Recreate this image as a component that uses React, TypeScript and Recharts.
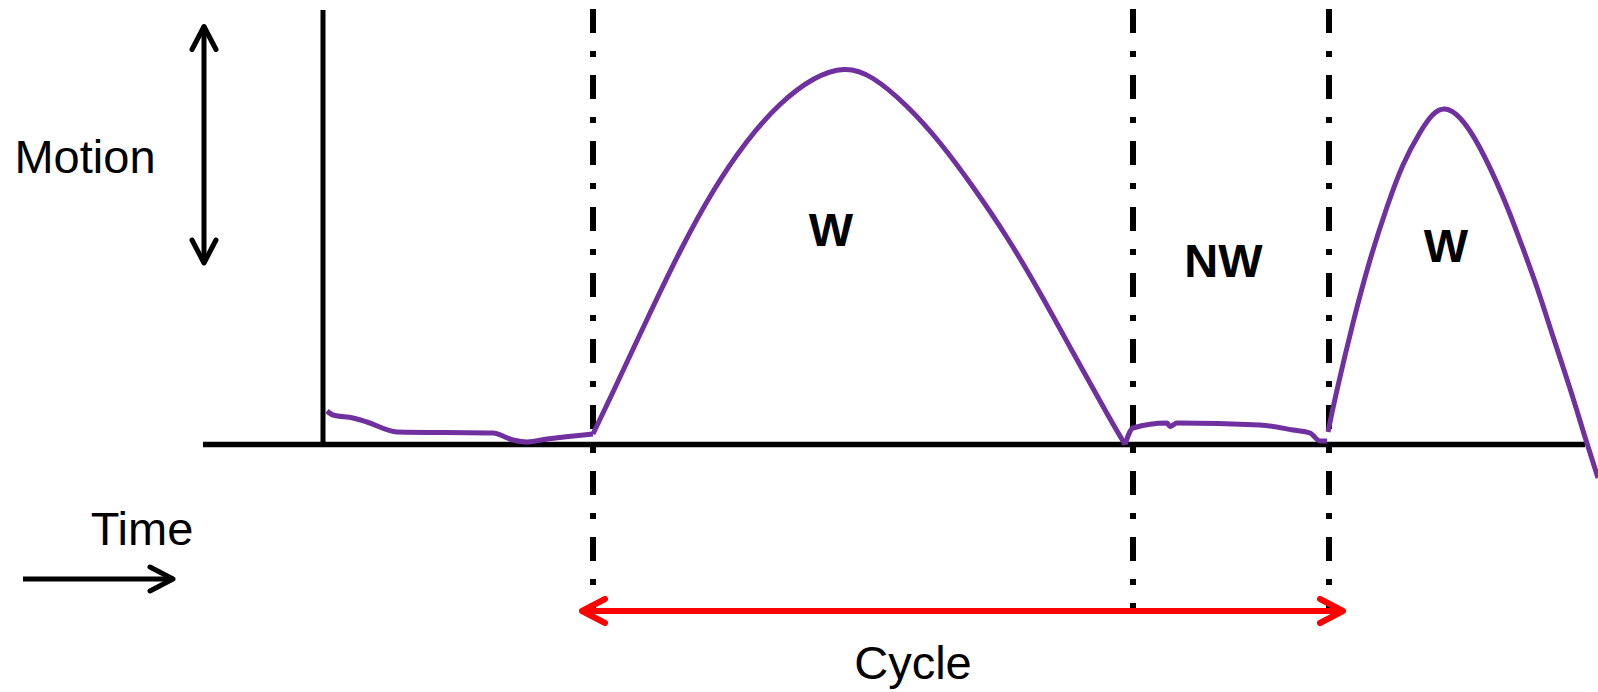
import React from 'react';
import { ComposedChart, Line, XAxis, YAxis, ReferenceLine, ReferenceDot } from 'recharts';

// time (t) and motion (m) in arbitrary units
const restPhase1 = [
  { t: 0.8, m: 6.7 }, { t: 2.0, m: 5.9 }, { t: 6.0, m: 5.3 }, { t: 8.8, m: 4.5 },
  { t: 14.8, m: 2.5 }, { t: 34.0, m: 2.3 }, { t: 38.0, m: 0.9 }, { t: 40.8, m: 0.5 },
  { t: 44.8, m: 1.1 }, { t: 54.0, m: 2.1 },
];
const workPhase1 = [
  { t: 54.0, m: 2.1 }, { t: 58.0, m: 10.5 }, { t: 64.8, m: 25.0 }, { t: 71.4, m: 38.6 },
  { t: 78.0, m: 50.6 }, { t: 84.8, m: 60.6 }, { t: 91.4, m: 68.0 }, { t: 98.0, m: 73.0 },
  { t: 104.2, m: 75.0 }, { t: 110.0, m: 73.2 }, { t: 116.8, m: 67.6 }, { t: 123.4, m: 60.3 },
  { t: 130.0, m: 51.5 }, { t: 136.8, m: 41.4 }, { t: 143.4, m: 30.3 }, { t: 150.0, m: 18.4 },
  { t: 156.8, m: 6.2 }, { t: 160.4, m: 0.0 },
];
const restPhase2 = [
  { t: 160.4, m: 0.0 }, { t: 162.0, m: 3.3 }, { t: 168.8, m: 4.3 }, { t: 169.4, m: 3.6 },
  { t: 170.8, m: 4.3 }, { t: 187.4, m: 3.9 }, { t: 194.0, m: 2.9 }, { t: 197.4, m: 2.3 },
  { t: 199.4, m: 0.7 }, { t: 200.8, m: 0.7 },
];
const workPhase2 = [
  { t: 201.0, m: 2.5 }, { t: 202.8, m: 10.9 }, { t: 206.0, m: 24.3 }, { t: 209.4, m: 36.9 },
  { t: 212.8, m: 47.5 }, { t: 216.0, m: 55.9 }, { t: 219.4, m: 62.4 }, { t: 222.0, m: 66.0 },
  { t: 224.4, m: 67.1 }, { t: 227.4, m: 65.3 }, { t: 231.4, m: 59.3 }, { t: 236.0, m: 49.5 },
  { t: 239.4, m: 40.8 }, { t: 242.8, m: 31.4 }, { t: 246.0, m: 21.6 }, { t: 249.4, m: 11.2 },
  { t: 252.4, m: 1.5 }, { t: 255.0, m: -6.7 },
];

const phaseBoundaries = [54.0, 162.0, 201.2];
const boundaryTop = 87.1;
const boundaryBottom = -32.7;

const timeAxisStart = -24.0;
const timeAxisEnd = 252.4;
const motionAxisTop = 86.9;

const motionArrow = { t: -23.8, from: 83.6, to: 36.3 };
const timeArrow = { m: -26.9, from: -60.0, to: -30.0 };
const cycleArrow = { m: -33.3, from: 51.8, to: 204.0 };

const textLabels = [
  { text: 'Motion', t: -47.6, m: 54.4, bold: false, color: '#000000' },
  { text: 'Time', t: -36.2, m: -20.1, bold: false, color: '#000000' },
  { text: 'Cycle', t: 118.0, m: -46.9, bold: false, color: '#000000' },
  { text: 'W', t: 101.6, m: 39.8, bold: true, color: '#000000' },
  { text: 'NW', t: 180.1, m: 33.5, bold: true, color: '#000000' },
  { text: 'W', t: 224.6, m: 36.5, bold: true, color: '#000000' },
];

const xDomain: [number, number] = [-64.6, 255.0];
const yDomain: [number, number] = [-49.5, 88.9];

const PURPLE = '#7030A0';
const RED = '#FF0000';
const FONT = '"Liberation Sans", Arial, Helvetica, sans-serif';

const makeArrow = (color: string, both: boolean, sw: number) => (p: any) => {
  const { x1, y1, x2, y2 } = p;
  const dx = x2 - x1;
  const dy = y2 - y1;
  const L = Math.hypot(dx, dy) || 1;
  const ux = dx / L;
  const uy = dy / L;
  const hl = 23;
  const hw = 12;
  const head = (tx: number, ty: number, dirx: number, diry: number, key: string) => {
    const bx = tx - dirx * hl;
    const by = ty - diry * hl;
    const px = -diry * hw;
    const py = dirx * hw;
    return (
      <polyline
        key={key}
        points={`${bx + px},${by + py} ${tx},${ty} ${bx - px},${by - py}`}
        fill="none"
        stroke={color}
        strokeWidth={sw}
        strokeLinecap="round"
        strokeLinejoin="round"
      />
    );
  };
  return (
    <g>
      <line x1={x1} y1={y1} x2={x2} y2={y2} stroke={color} strokeWidth={sw} strokeLinecap="butt" />
      {head(x2, y2, ux, uy, 'e')}
      {both ? head(x1, y1, -ux, -uy, 's') : null}
    </g>
  );
};

const makeText = (text: string, bold: boolean, color: string) => (p: any) => (
  <text
    x={p.cx}
    y={p.cy}
    textAnchor="middle"
    fontFamily={FONT}
    fontSize={47}
    fontWeight={bold ? 'bold' : 'normal'}
    fill={color}
  >
    {text}
  </text>
);

export default function App() {
  return (
    <div style={{ position: 'absolute', left: 0, top: 0, width: 1598, height: 692, background: '#ffffff' }}>
      <ComposedChart width={1598} height={692} margin={{ top: 0, right: 0, bottom: 0, left: 0 }}>
        <XAxis dataKey="t" type="number" domain={xDomain} allowDataOverflow hide />
        <YAxis dataKey="m" type="number" domain={yDomain} allowDataOverflow hide />

        {phaseBoundaries.map((b, i) => (
          <ReferenceLine
            key={`b${i}`}
            segment={[{ x: b, y: boundaryTop }, { x: b, y: boundaryBottom }]}
            stroke="#000000"
            strokeWidth={6}
            strokeDasharray="24 18 6 18"
          />
        ))}

        <ReferenceLine
          segment={[{ x: timeAxisStart, y: 0 }, { x: timeAxisEnd, y: 0 }]}
          stroke="#000000"
          strokeWidth={5.5}
        />
        <ReferenceLine
          segment={[{ x: 0, y: motionAxisTop }, { x: 0, y: 0 }]}
          stroke="#000000"
          strokeWidth={5}
        />

        <ReferenceLine
          segment={[{ x: motionArrow.t, y: motionArrow.to }, { x: motionArrow.t, y: motionArrow.from }]}
          shape={makeArrow('#000000', true, 5)}
        />
        <ReferenceLine
          segment={[{ x: timeArrow.from, y: timeArrow.m }, { x: timeArrow.to, y: timeArrow.m }]}
          shape={makeArrow('#000000', false, 5)}
        />
        <ReferenceLine
          segment={[{ x: cycleArrow.from, y: cycleArrow.m }, { x: cycleArrow.to, y: cycleArrow.m }]}
          shape={makeArrow(RED, true, 6)}
        />

        <Line data={restPhase1} dataKey="m" type="monotone" stroke={PURPLE} strokeWidth={5} dot={false} activeDot={false} isAnimationActive={false} />
        <Line data={workPhase1} dataKey="m" type="natural" stroke={PURPLE} strokeWidth={5} dot={false} activeDot={false} isAnimationActive={false} />
        <Line data={restPhase2} dataKey="m" type="monotone" stroke={PURPLE} strokeWidth={5} dot={false} activeDot={false} isAnimationActive={false} />
        <Line data={workPhase2} dataKey="m" type="natural" stroke={PURPLE} strokeWidth={5} dot={false} activeDot={false} isAnimationActive={false} />

        {textLabels.map((l, i) => (
          <ReferenceDot key={`l${i}`} x={l.t} y={l.m} r={0} shape={makeText(l.text, l.bold, l.color)} />
        ))}
      </ComposedChart>
    </div>
  );
}
